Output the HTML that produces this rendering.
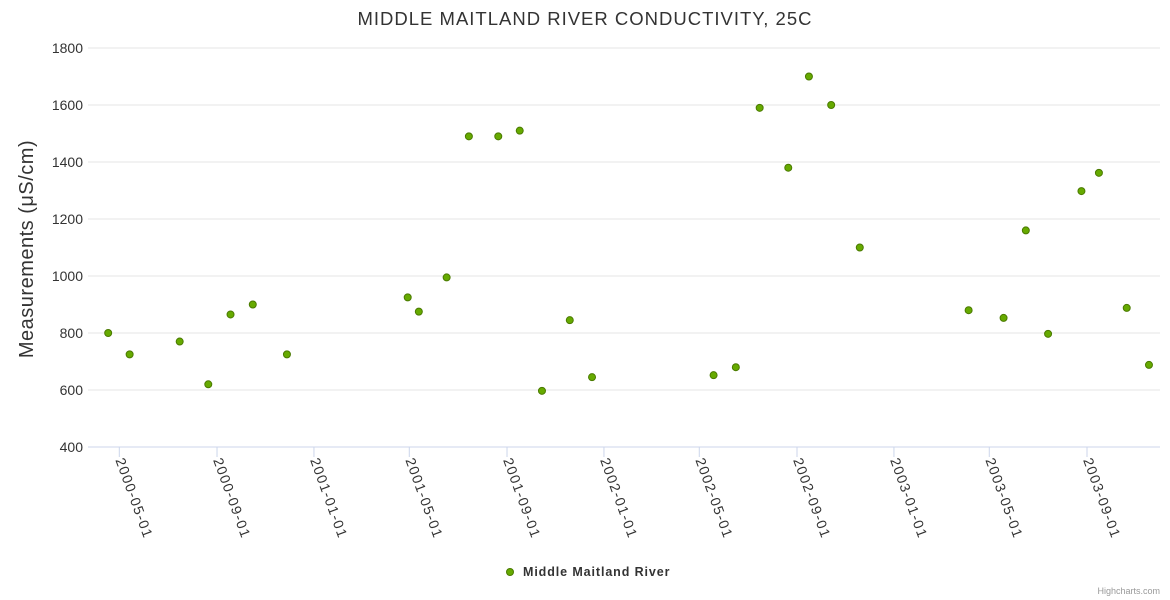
<!DOCTYPE html>
<html><head><meta charset="utf-8"><style>
html,body{margin:0;padding:0;background:#fff;}
svg{display:block;font-family:"Liberation Sans","DejaVu Sans",sans-serif;}
</style></head><body>
<svg id="chart" width="1170" height="600" viewBox="0 0 1170 600">
<text x="585" y="25" text-anchor="middle" font-size="18.5" letter-spacing="1" fill="#333">MIDDLE MAITLAND RIVER CONDUCTIVITY, 25C</text>
<text transform="translate(33,249) rotate(-90)" text-anchor="middle" font-size="20" letter-spacing="0.5" fill="#333">Measurements (μS/cm)</text>
<g id="grid"></g><g id="yticks"></g><g id="xticks"></g><g id="points"></g>
<g>
<circle cx="510" cy="572" r="3.5" fill="#66aa00" stroke="#4a7a00" stroke-width="1"/>
<text x="523" y="576" font-size="12.5" font-weight="bold" letter-spacing="0.9" fill="#333">Middle Maitland River</text>
</g>
<text x="1160" y="594" text-anchor="end" font-size="9" fill="#999">Highcharts.com</text>
</svg>
<script>
const dates=["2000-04-17","2000-05-14","2000-07-16","2000-08-21","2000-09-18","2000-10-16","2000-11-28","2001-04-29","2001-05-13","2001-06-17","2001-07-15","2001-08-21","2001-09-17","2001-10-15","2001-11-19","2001-12-17","2002-05-19","2002-06-16","2002-07-16","2002-08-21","2002-09-16","2002-10-14","2002-11-19","2003-04-05","2003-05-19","2003-06-16","2003-07-14","2003-08-25","2003-09-16","2003-10-21","2003-11-18"];
const values=[800,725,770,620,865,900,725,925,875,995,1490,1490,1510,597,845,645,652,680,1590,1380,1700,1600,1100,880,853,1160,797,1298,1362,888,688];
const yTicks=[400,600,800,1000,1200,1400,1600,1800];
const xTicks=["2000-05-01","2000-09-01","2001-01-01","2001-05-01","2001-09-01","2002-01-01","2002-05-01","2002-09-01","2003-01-01","2003-05-01","2003-09-01"];
const NS="http://www.w3.org/2000/svg";
const L=99,R=1160,T=48,B=447;
const day=s=>Date.parse(s+"T00:00:00Z")/86400000;
const x0=day("2000-05-01");
const xs=d=>119.3+(day(d)-x0)*0.7945;
const ys=v=>B-(v-400)*(B-T)/1400;
function mk(tag,attrs,parent){const e=document.createElementNS(NS,tag);for(const k in attrs)e.setAttribute(k,attrs[k]);parent.appendChild(e);return e;}
const grid=document.getElementById('grid'),yt=document.getElementById('yticks'),xt=document.getElementById('xticks'),pts=document.getElementById('points');
yTicks.forEach(v=>{
 const g=mk('line',{x1:88,x2:R,y1:ys(v),y2:ys(v),stroke:v===400?'#ccd6eb':'#e6e6e6','stroke-width':1},grid);
 
 
 const t=mk('text',{x:83,y:ys(v)+5,'text-anchor':'end','font-size':14,fill:'#333'},yt);
 t.textContent=v;
 
 
});
xTicks.forEach(d=>{
 const x=xs(d);
 const l=mk('line',{x1:x,x2:x,y1:B,y2:B+10,stroke:'#ccd6eb'},xt);
 
 
 const t=mk('text',{transform:`translate(${x-4},${B+13}) rotate(70)`,'font-size':14,'letter-spacing':1.3,fill:'#333'},xt);
 t.textContent=d;
 
 
});
dates.forEach((d,i)=>{
 const c=mk('circle',{cx:xs(d),cy:ys(values[i]),r:3.5,fill:'#66aa00',stroke:'#4a7a00','stroke-width':1},pts);
 
 
});
</script>
</body></html>
